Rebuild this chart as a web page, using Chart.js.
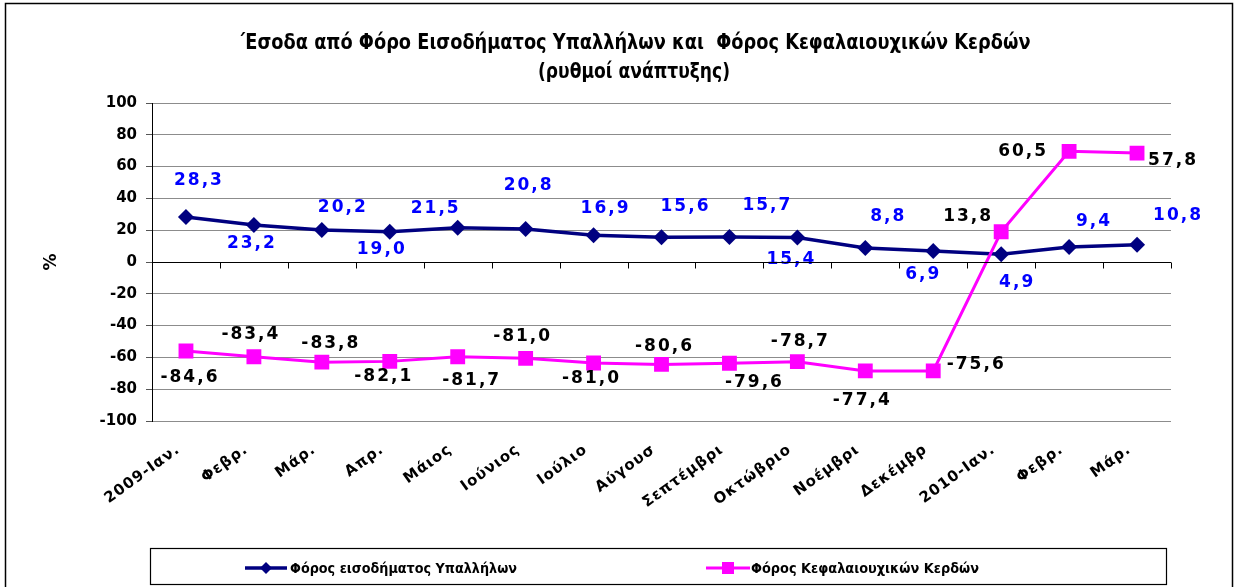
<!DOCTYPE html>
<html>
<head>
<meta charset="utf-8">
<script src="https://cdn.jsdelivr.net/npm/chart.js@4"></script>
<style>
  html, body { margin: 0; padding: 0; background: #fff; }
  canvas { display: block; }
</style>
</head>
<body>
<canvas id="chart" width="1236" height="587"></canvas>
<script>
// Months (as they show on the axis, truncated ones kept truncated)
const months = ['2009-Ιαν.', 'Φεβρ.', 'Μάρ.', 'Απρ.', 'Μάιος', 'Ιούνιος', 'Ιούλιο', 'Αύγουσ',
  'Σεπτέμβρι', 'Οκτώβριο', 'Νοέμβρι', 'Δεκέμβρ', '2010-Ιαν.', 'Φεβρ.', 'Μάρ.'];

// Φόρος εισοδήματος Υπαλλήλων
const employeeTax = [28.3, 23.2, 20.2, 19.0, 21.5, 20.8, 16.9, 15.6, 15.7, 15.4, 8.8, 6.9, 4.9, 9.4, 10.8];

// Φόρος Κεφαλαιουχικών Κερδών (plotted positions)
const capitalTax = [-56.0, -59.6, -63.0, -62.5, -59.6, -60.6, -63.5, -64.4, -63.7, -62.7, -68.5, -68.5, 19.0, 69.6, 68.5];
// the data labels printed in the original chart
const capitalLabels = ['-84,6', '-83,4', '-83,8', '-82,1', '-81,7', '-81,0', '-81,0', '-80,6',
  '-79,6', '-78,7', '-77,4', '-75,6', '13,8', '60,5', '57,8'];

const yTicks = { min: -100, max: 100, step: 20 };

// where each label sits relative to its point (px)
const employeeLabelPos = [[13, -36], [-2, 18], [21, -22], [-8, 18], [-22, -19], [3, -43], [12, -27],
  [24, -31], [38, -31], [-6, 22], [23, -31], [-10, 24], [16, 28], [25, -25], [41, -29]];
const capitalLabelPos = [[4, 27], [-3, -22], [9, -19], [-6, 15], [14, 24], [-3, -22], [-2, 16],
  [3, -18], [25, 19], [3, -20], [-3, 30], [43, -6], [-33, -15], [-46, 0], [36, 7]];

const BLUE = '#000080';
const PINK = '#FF00FF';
const FONT = '"DejaVu Sans", Verdana, sans-serif';

function fmt(v) {
  return v.toFixed(1).replace('.', ',');
}

// draw text squeezed to a given width
function fitText(ctx, text, x, y, width, align) {
  let w = ctx.measureText(text).width;
  let sx = width / w;
  ctx.save();
  ctx.translate(x, y);
  ctx.scale(sx, 1);
  ctx.textAlign = align || 'center';
  ctx.fillText(text, 0, 0);
  ctx.restore();
}

const decorations = {
  id: 'decorations',
  beforeDraw(chart) {
    const ctx = chart.ctx;
    ctx.save();
    ctx.fillStyle = '#fff';
    ctx.fillRect(0, 0, chart.width, chart.height);
    ctx.strokeStyle = '#000';
    ctx.lineWidth = 1.5;
    ctx.strokeRect(5.5, 3.5, 1227, 620);
    ctx.restore();
  },
  afterDraw(chart) {
    const ctx = chart.ctx;
    const area = chart.chartArea;
    const xs = chart.scales.x;
    const ys = chart.scales.y;
    ctx.save();

    // title
    ctx.fillStyle = '#000';
    ctx.textBaseline = 'middle';
    ctx.font = 'bold 21px ' + FONT;
    fitText(ctx, '΄Εσοδα από Φόρο Εισοδήματος Υπαλλήλων και  Φόρος Κεφαλαιουχικών Κερδών', 634, 44, 793);
    fitText(ctx, '(ρυθμοί ανάπτυξης)', 634, 73, 192);

    // y title
    ctx.font = 'bold 17px ' + FONT;
    ctx.save();
    ctx.translate(52, ys.getPixelForValue(0));
    ctx.rotate(-Math.PI / 2);
    ctx.textAlign = 'center';
    ctx.fillText('%', 0, 0);
    ctx.restore();

    // zero axis line with category tick marks
    const y0 = Math.round(ys.getPixelForValue(0)) + 0.5;
    ctx.strokeStyle = '#000';
    ctx.lineWidth = 1;
    ctx.beginPath();
    ctx.moveTo(area.left, y0);
    ctx.lineTo(area.right, y0);
    const step = (area.right - area.left) / months.length;
    for (let i = 0; i <= months.length; i++) {
      const x = Math.round(area.left + i * step) + 0.5;
      ctx.moveTo(x, y0);
      ctx.lineTo(x, y0 + 6);
    }
    ctx.stroke();

    // category labels
    ctx.font = 'bold 15px ' + FONT;
    ctx.letterSpacing = '1px';
    ctx.textAlign = 'right';
    ctx.textBaseline = 'top';
    months.forEach((m, i) => {
      const x = xs.getPixelForValue(i) - 12;
      ctx.save();
      ctx.translate(x, 442);
      ctx.rotate(-36 * Math.PI / 180);
      ctx.fillText(m, 0, 0);
      ctx.restore();
    });
    ctx.letterSpacing = '0px';

    // legend
    ctx.strokeStyle = '#000';
    ctx.lineWidth = 1.2;
    ctx.strokeRect(150.5, 548.5, 1016, 36);
    const ly = 568;
    ctx.lineWidth = 3.5;
    ctx.strokeStyle = BLUE;
    ctx.beginPath();
    ctx.moveTo(245, ly);
    ctx.lineTo(287, ly);
    ctx.stroke();
    ctx.fillStyle = BLUE;
    ctx.beginPath();
    ctx.moveTo(266, ly - 6);
    ctx.lineTo(272, ly);
    ctx.lineTo(266, ly + 6);
    ctx.lineTo(260, ly);
    ctx.closePath();
    ctx.fill();
    ctx.strokeStyle = PINK;
    ctx.lineWidth = 3;
    ctx.beginPath();
    ctx.moveTo(706, ly);
    ctx.lineTo(750, ly);
    ctx.stroke();
    ctx.fillStyle = PINK;
    ctx.fillRect(722, ly - 6, 12, 12);

    ctx.fillStyle = '#000';
    ctx.font = 'bold 14px ' + FONT;
    ctx.textBaseline = 'middle';
    fitText(ctx, 'Φόρος εισοδήματος Υπαλλήλων', 290, ly + 1, 227, 'left');
    fitText(ctx, 'Φόρος Κεφαλαιουχικών Κερδών', 751, ly + 1, 228, 'left');
    ctx.restore();
  },
  afterDatasetsDraw(chart) {
    const ctx = chart.ctx;
    ctx.save();
    ctx.font = 'bold 17px ' + FONT;
    ctx.letterSpacing = '2px';
    ctx.textAlign = 'center';
    ctx.textBaseline = 'middle';
    const blueMeta = chart.getDatasetMeta(0);
    ctx.fillStyle = '#0000FF';
    blueMeta.data.forEach((pt, i) => {
      ctx.fillText(fmt(employeeTax[i]), pt.x + employeeLabelPos[i][0], pt.y + employeeLabelPos[i][1]);
    });
    const pinkMeta = chart.getDatasetMeta(1);
    ctx.fillStyle = '#000';
    pinkMeta.data.forEach((pt, i) => {
      ctx.fillText(capitalLabels[i], pt.x + capitalLabelPos[i][0], pt.y + capitalLabelPos[i][1]);
    });
    ctx.letterSpacing = '0px';
    ctx.restore();
  }
};

new Chart(document.getElementById('chart').getContext('2d'), {
  type: 'line',
  data: {
    labels: months,
    datasets: [{
      label: 'Φόρος εισοδήματος Υπαλλήλων',
      data: employeeTax,
      borderColor: BLUE,
      backgroundColor: BLUE,
      borderWidth: 3.5,
      pointStyle: 'rectRot',
      pointRadius: 8,
      pointBorderWidth: 0,
      tension: 0,
      order: 1
    }, {
      label: 'Φόρος Κεφαλαιουχικών Κερδών',
      data: capitalTax,
      borderColor: PINK,
      backgroundColor: PINK,
      borderWidth: 3,
      pointStyle: 'rect',
      pointRadius: 10.5,
      pointBorderWidth: 0,
      tension: 0,
      order: 0
    }]
  },
  options: {
    responsive: false,
    animation: false,
    devicePixelRatio: 1,
    layout: { padding: { left: 0, right: 65, top: 103, bottom: 0 } },
    plugins: {
      legend: { display: false },
      title: { display: false },
      tooltip: { enabled: false }
    },
    scales: {
      x: {
        offset: true,
        ticks: { display: false },
        grid: { display: false },
        border: { display: false },
        afterFit(scale) { scale.height = 166; }
      },
      y: {
        min: yTicks.min,
        max: yTicks.max,
        ticks: {
          stepSize: yTicks.step,
          color: '#000',
          padding: 9,
          font: { family: FONT, size: 15, weight: 'bold' }
        },
        grid: {
          color: ctx => ctx.tick && ctx.tick.value === 0 ? '#000' : '#8c8c8c',
          tickLength: 6,
          tickColor: '#555'
        },
        border: { display: true, color: '#000', width: 1 },
        afterFit(scale) { scale.width = 152; }
      }
    }
  },
  plugins: [decorations]
});
</script>
</body>
</html>
